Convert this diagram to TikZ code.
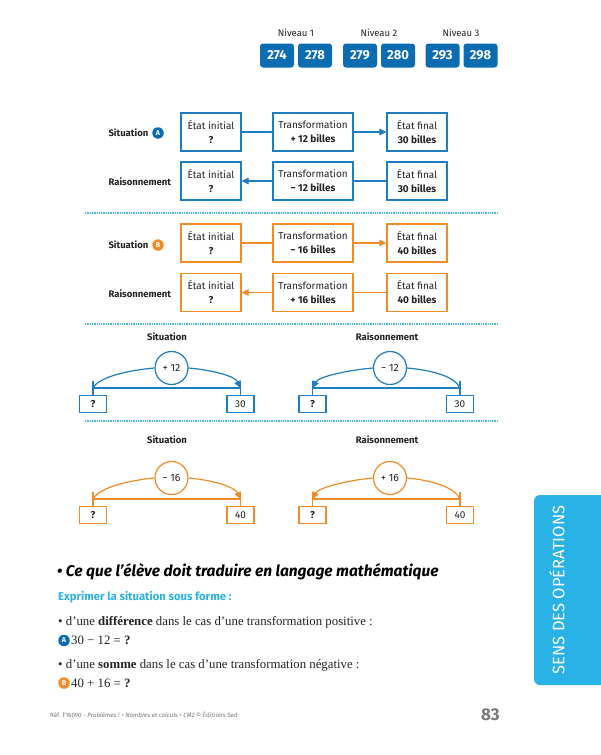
\documentclass[tikz,border=0pt]{standalone}
\usepackage{fontspec}
\setmainfont{Fira Sans}
\newfontfamily\corps{Liberation Serif}
\usetikzlibrary{arrows.meta}
\definecolor{bleu}{RGB}{30,124,192}
\definecolor{bleuf}{RGB}{12,108,178}
\definecolor{orang}{RGB}{240,140,40}
\definecolor{cyanl}{RGB}{70,185,222}
\definecolor{tabc}{RGB}{40,178,230}
\definecolor{gris}{RGB}{120,120,120}
\definecolor{texte}{RGB}{35,35,35}
\begin{document}
\begin{tikzpicture}[x=1pt,y=1pt,
  etat/.style={draw, line width=1.2pt, minimum height=38, inner sep=1pt, align=center,
    font=\fontsize{10}{14}\selectfont, text=texte},
  petit/.style={etat, minimum width=60},
  grand/.style={etat, minimum width=80},
  fleche/.style={line width=1.2pt, -{Triangle[length=7pt,width=6.5pt]}},
  trait/.style={line width=1.2pt},
  lab/.style={anchor=west, font=\fontsize{9.5}{11}\selectfont\bfseries, text=texte},
  niv/.style={font=\fontsize{9.5}{11}\selectfont, text=texte},
  numbox/.style={fill=bleuf, rounded corners=3pt, minimum width=34, minimum height=24,
    text=white, font=\fontsize{13}{15}\selectfont\bfseries},
  pastille/.style={circle, inner sep=0pt, minimum size=11.5, text=white,
    font=\fontsize{7}{7}\selectfont\bfseries},
  sep/.style={cyanl, line width=1.3pt, dash pattern=on 1.3pt off 1pt},
  nbox/.style={draw, line width=1.2pt, minimum width=27, minimum height=17, inner sep=1pt,
    font=\fontsize{10}{11}\selectfont, text=texte},
  rond/.style={draw, circle, line width=1.2pt, minimum size=33, inner sep=0pt,
    font=\fontsize{10.5}{11}\selectfont, text=texte},
  titre/.style={font=\fontsize{9.5}{11}\selectfont\bfseries, text=texte},
  arcg/.style={out=185,in=62,out distance=25pt,in distance=13pt},
  arcd/.style={out=-5,in=115,out distance=25pt,in distance=13pt}
]
\useasboundingbox (0,0) rectangle (600,-755);
\fill[white] (0,0) rectangle (600,-755);

% Niveaux
\node[niv] (n1) at (296,-33) {Niveau 1};
\node[niv] (n2) at (379,-33) {Niveau 2};
\node[niv] (n3) at (461,-33) {Niveau 3};
\node[numbox] (b274) at (277,-55.5) {274};
\node[numbox] (b278) at (315,-55.5) {278};
\node[numbox] (b279) at (360,-55.5) {279};
\node[numbox] (b280) at (398,-55.5) {280};
\node[numbox] (b293) at (442.5,-55.5) {293};
\node[numbox] (b298) at (480.5,-55.5) {298};

% Situation A
\node[lab] (lsa) at (105,-133) {Situation};
\node[pastille, fill=bleuf] (pa) at (158,-133) {A};
\node[petit, draw=bleu] (a1) at (211,-132) {État initial\\\textbf{?}};
\node[grand, draw=bleu] (a2) at (313,-132) {Transformation\\\textbf{+ 12 billes}};
\node[petit, draw=bleu] (a3) at (417,-132) {État final\\\textbf{30 billes}};
\draw[trait, bleu] (a1) -- (a2);
\draw[fleche, bleu] (a2) -- (a3);
\node[lab] (lra) at (105,-182) {Raisonnement};
\node[petit, draw=bleu] (r1) at (211,-181) {État initial\\\textbf{?}};
\node[grand, draw=bleu] (r2) at (313,-181) {Transformation\\\textbf{− 12 billes}};
\node[petit, draw=bleu] (r3) at (417,-181) {État final\\\textbf{30 billes}};
\draw[trait, bleu] (r3) -- (r2);
\draw[fleche, bleu] (r2) -- (r1);

\draw[sep] (85,-213) -- (497,-213);

% Situation B
\node[lab] (lsb) at (105,-245) {Situation};
\node[pastille, fill=orang] (pb) at (158,-245) {B};
\node[petit, draw=orang] (c1) at (211,-243) {État initial\\\textbf{?}};
\node[grand, draw=orang] (c2) at (313,-243) {Transformation\\\textbf{− 16 billes}};
\node[petit, draw=orang] (c3) at (417,-243) {État final\\\textbf{40 billes}};
\draw[trait, orang] (c1) -- (c2);
\draw[fleche, orang] (c2) -- (c3);
\node[lab] (lrb) at (105,-294) {Raisonnement};
\node[petit, draw=orang] (d1) at (211,-292.5) {État initial\\\textbf{?}};
\node[grand, draw=orang] (d2) at (313,-292.5) {Transformation\\\textbf{+ 16 billes}};
\node[petit, draw=orang] (d3) at (417,-292.5) {État final\\\textbf{40 billes}};
\draw[trait, orang] (d3) -- (d2);
\draw[fleche, orang] (d2) -- (d1);

\draw[sep] (85,-324) -- (497,-324);

% Droites A
\node[titre] (t1) at (167,-337) {Situation};
\node[titre] (t2) at (387,-337) {Raisonnement};
\node[nbox, draw=bleu] (pq) at (93,-404) {\textbf{?}};
\node[nbox, draw=bleu] (pn) at (240.5,-404) {30};
\node[rond, draw=bleu] (pc) at (171.5,-368) {+ 12};
\coordinate (pt) at (0,-381);
\coordinate (ph) at (0,-388);
\draw[trait, bleu] (pq.north) -- (pq.north |- pt);
\draw[trait, bleu] (pn.north) -- (pn.north |- pt);
\draw[trait, bleu] (pq.north |- ph) -- (pn.north |- ph);
\draw[trait, bleu] (pc.west) to[arcg] (pq.north |- ph);
\draw[fleche, bleu] (pc.east) to[arcd] (pn.north |- ph);

\node[nbox, draw=bleu] (qq) at (312.5,-404) {\textbf{?}};
\node[nbox, draw=bleu] (qn) at (460,-404) {30};
\node[rond, draw=bleu] (qc) at (390,-368) {− 12};
\draw[trait, bleu] (qq.north) -- (qq.north |- pt);
\draw[trait, bleu] (qn.north) -- (qn.north |- pt);
\draw[trait, bleu] (qq.north |- ph) -- (qn.north |- ph);
\draw[fleche, bleu] (qc.west) to[arcg] (qq.north |- ph);
\draw[trait, bleu] (qc.east) to[arcd] (qn.north |- ph);

\draw[sep] (85,-421) -- (497,-421);

% Droites B
\node[titre] (t3) at (167,-440) {Situation};
\node[titre] (t4) at (387,-440) {Raisonnement};
\node[nbox, draw=orang] (uq) at (93,-515) {\textbf{?}};
\node[nbox, draw=orang] (un) at (240.5,-515) {40};
\node[rond, draw=orang] (uc) at (171.5,-478) {− 16};
\coordinate (ut) at (0,-492);
\coordinate (uh) at (0,-499);
\draw[trait, orang] (uq.north) -- (uq.north |- ut);
\draw[trait, orang] (un.north) -- (un.north |- ut);
\draw[trait, orang] (uq.north |- uh) -- (un.north |- uh);
\draw[trait, orang] (uc.west) to[arcg] (uq.north |- uh);
\draw[fleche, orang] (uc.east) to[arcd] (un.north |- uh);

\node[nbox, draw=orang] (vq) at (312.5,-515) {\textbf{?}};
\node[nbox, draw=orang] (vn) at (460,-515) {40};
\node[rond, draw=orang] (vc) at (390,-478) {+ 16};
\draw[trait, orang] (vq.north) -- (vq.north |- ut);
\draw[trait, orang] (vn.north) -- (vn.north |- ut);
\draw[trait, orang] (vq.north |- uh) -- (vn.north |- uh);
\draw[fleche, orang] (vc.west) to[arcg] (vq.north |- uh);
\draw[trait, orang] (vc.east) to[arcd] (vn.north |- uh);

% Texte du bas
\node[anchor=west, inner sep=0pt, font=\fontsize{15.5}{17}\selectfont\bfseries\itshape, text=black] (h1) at (57,-572)
  {• Ce que l’élève doit traduire en langage mathématique};
\node[anchor=west, inner sep=0pt, font=\fontsize{11.3}{13}\selectfont\bfseries, text=tabc] (h2) at (58,-597)
  {Exprimer la situation sous forme :};
\node[anchor=west, inner sep=0pt, font=\corps\fontsize{12.8}{14}\selectfont, text=texte] (h3) at (58,-622)
  {• d’une \textbf{différence} dans le cas d’une transformation positive :};
\node[pastille, fill=bleuf] (h4p) at (64,-640.5) {A};
\node[anchor=west, inner sep=0pt, font=\corps\fontsize{12.8}{14}\selectfont, text=texte] (h4) at (71,-640.5)
  {30 − 12 = \textbf{?}};
\node[anchor=west, inner sep=0pt, font=\corps\fontsize{12.8}{14}\selectfont, text=texte] (h5) at (58,-665)
  {• d’une \textbf{somme} dans le cas d’une transformation négative :};
\node[pastille, fill=orang] (h6p) at (64,-683) {B};
\node[anchor=west, inner sep=0pt, font=\corps\fontsize{12.8}{14}\selectfont, text=texte] (h6) at (71,-683)
  {40 + 16 = \textbf{?}};

% Pied de page
\node[anchor=west, inner sep=0pt, font=\fontsize{6.2}{8}\selectfont, text=gris] (pied) at (50,-715)
  {Réf. F16090 - \textit{Problèmes !} • \textit{Nombres et calculs} • \textit{CM2} © Éditions Sed};
\node[anchor=east, inner sep=0pt, font=\fontsize{17}{19}\selectfont\bfseries, text=gris] (page) at (500,-715) {83};

% Onglet
\fill[tabc, rounded corners=6pt] (534,-495) rectangle (612,-685);
\node[rotate=90, text=white, font=\fontsize{16.5}{18}\selectfont] (onglet) at (557,-590) {SENS DES OPÉRATIONS};
\end{tikzpicture}
\end{document}
